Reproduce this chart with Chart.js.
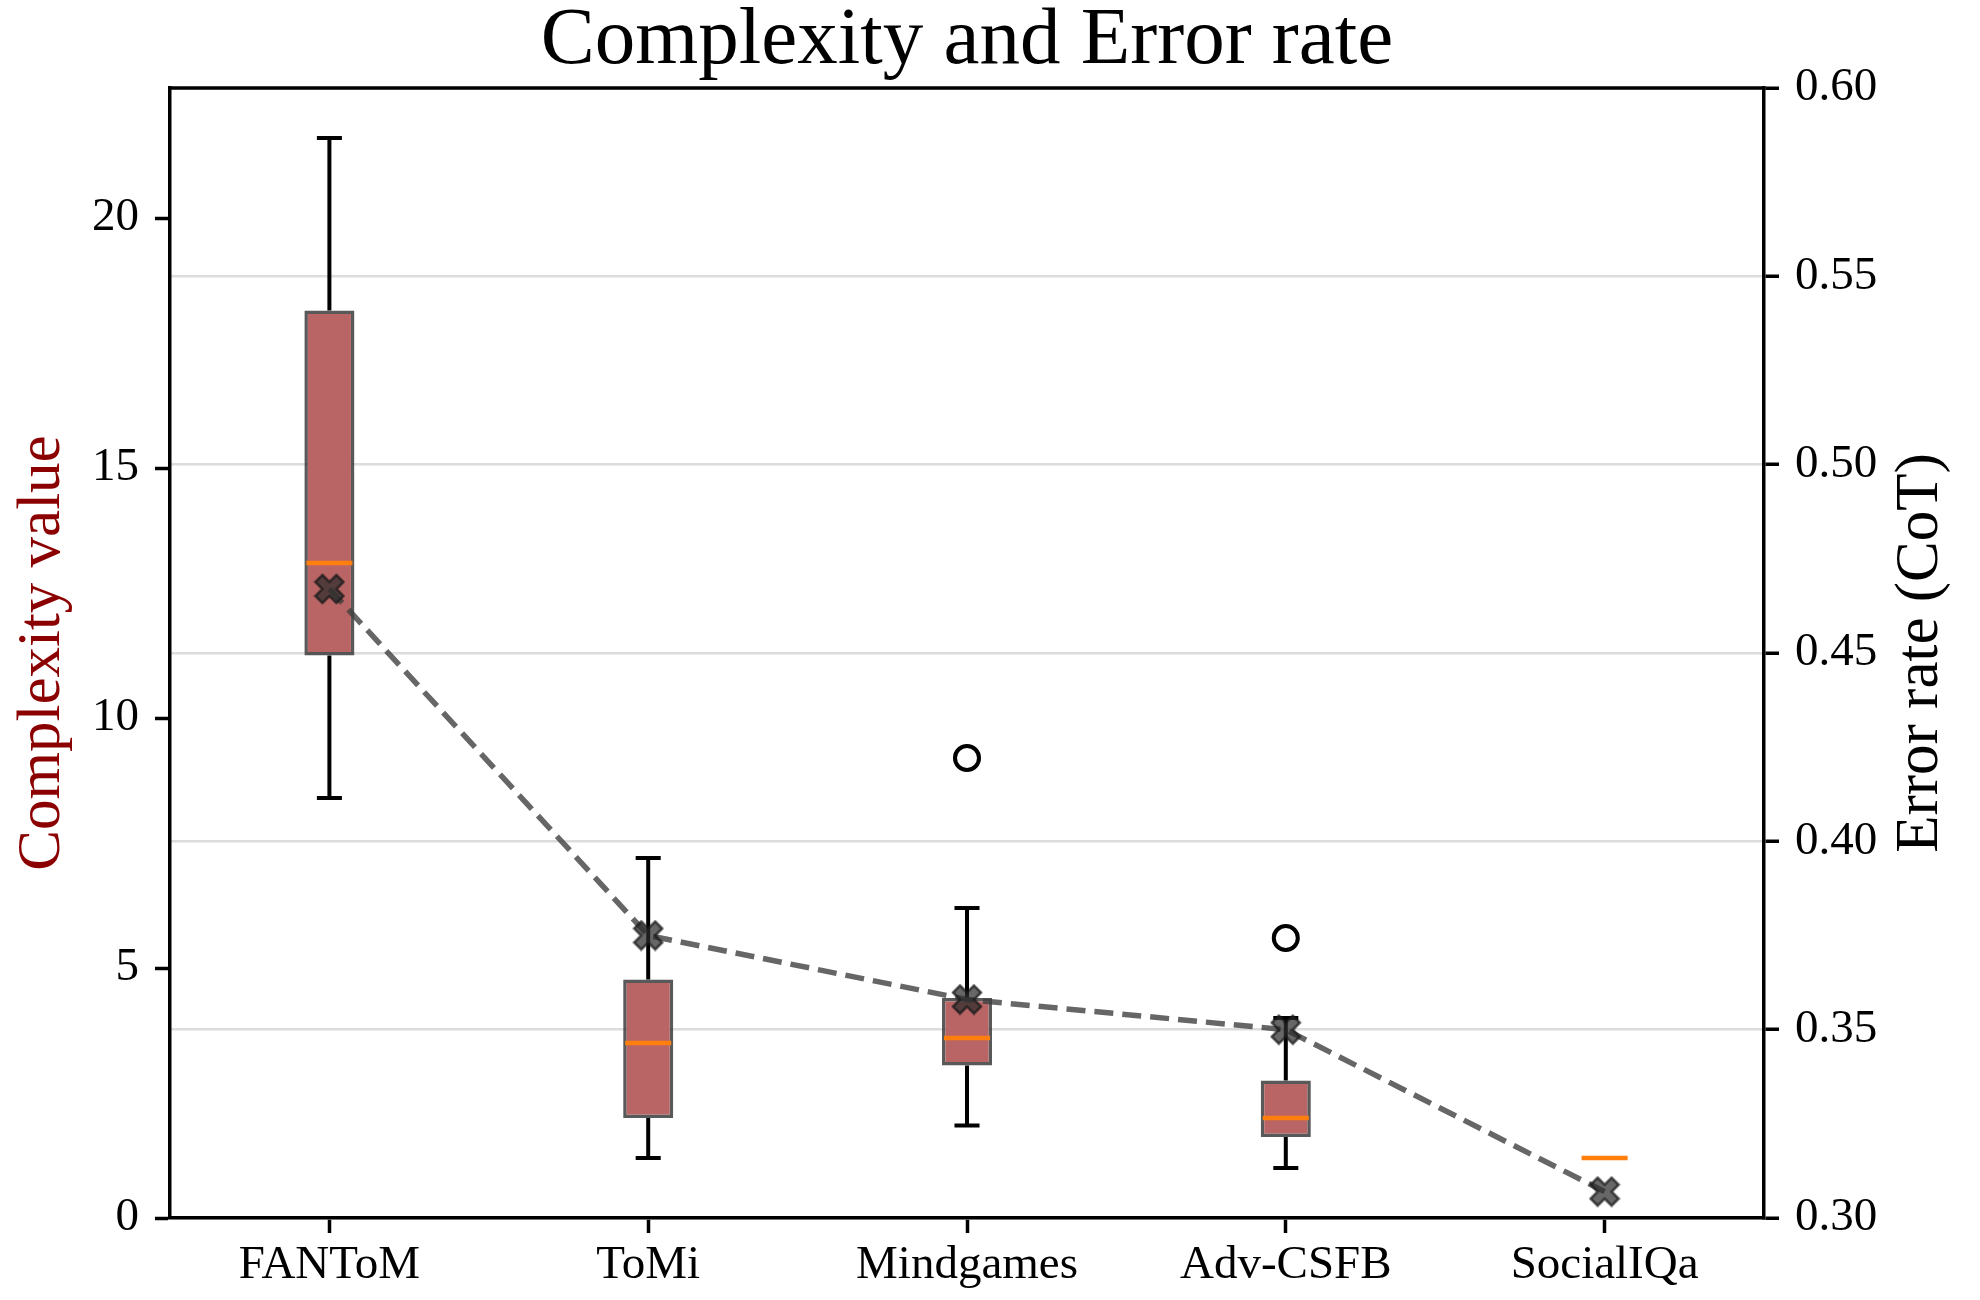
<!DOCTYPE html>
<html>
<head>
<meta charset="utf-8">
<script src="https://cdn.jsdelivr.net/npm/chart.js@4.4.1/dist/chart.umd.min.js"></script>
<style>
  html, body { margin: 0; padding: 0; background: #fff; }
  #wrap { width: 1980px; height: 1300px; }
</style>
</head>
<body>
<div id="wrap"><canvas id="chart"></canvas></div>
<script>
// data
const categories = ['FANToM', 'ToMi', 'Mindgames', 'Adv-CSFB', 'SocialIQa'];
const whiskerLow = [8.4, 1.2, 1.85, 1.0, 1.2];
const q1 = [11.25, 2.0, 3.05, 1.62, 1.2];
const median = [13.1, 3.5, 3.6, 2.0, 1.2];
const q3 = [18.15, 4.77, 4.4, 2.75, 1.2];
const whiskerHigh = [21.6, 7.2, 6.2, 4.0, 1.2];
const outliers = [{ x: 'Mindgames', y: 9.2 }, { x: 'Adv-CSFB', y: 5.6 }];
const errorRate = [0.467, 0.375, 0.358, 0.350, 0.307];
const errorTicks = [0.30, 0.35, 0.40, 0.45, 0.50, 0.55, 0.60];

const serif = 'Liberation Serif';
Chart.defaults.font.family = serif;
Chart.defaults.color = '#000';

// filled "X" marker like matplotlib's
function makeX(size) {
  const c = document.createElement('canvas');
  c.width = size + 4; c.height = size + 4;
  const g = c.getContext('2d');
  const pts = [[-0.25,-0.5],[0,-0.25],[0.25,-0.5],[0.5,-0.25],[0.25,0],[0.5,0.25],
               [0.25,0.5],[0,0.25],[-0.25,0.5],[-0.5,0.25],[-0.25,0],[-0.5,-0.25]];
  g.translate(c.width / 2, c.height / 2);
  g.beginPath();
  pts.forEach((p, i) => { const x = p[0] * size, y = p[1] * size; i ? g.lineTo(x, y) : g.moveTo(x, y); });
  g.closePath();
  g.fillStyle = 'rgba(45,45,45,0.72)';
  g.fill();
  g.lineWidth = 2.5;
  g.strokeStyle = 'rgba(25,25,25,0.75)';
  g.stroke();
  return c;
}
const xMarker = makeX(28);

// whiskers, caps and medians on top of the boxes
const boxExtras = {
  id: 'boxExtras',
  afterDatasetDraw(chart, args) {
    if (args.index !== 0) return;
    const ctx = chart.ctx;
    const xs = chart.scales.x, ys = chart.scales.y;
    const bars = args.meta.data;
    ctx.save();
    categories.forEach((c, i) => {
      const x = xs.getPixelForValue(i);
      const w = bars[i].width;
      const yLo = ys.getPixelForValue(whiskerLow[i]);
      const yHi = ys.getPixelForValue(whiskerHigh[i]);
      const yQ1 = ys.getPixelForValue(q1[i]);
      const yQ3 = ys.getPixelForValue(q3[i]);
      const yMed = ys.getPixelForValue(median[i]);
      ctx.strokeStyle = '#000';
      ctx.lineWidth = 4;
      ctx.beginPath();
      ctx.moveTo(x, yQ1); ctx.lineTo(x, yLo);
      ctx.moveTo(x, yQ3); ctx.lineTo(x, yHi);
      ctx.moveTo(x - w / 4, yLo); ctx.lineTo(x + w / 4, yLo);
      ctx.moveTo(x - w / 4, yHi); ctx.lineTo(x + w / 4, yHi);
      ctx.stroke();
      ctx.strokeStyle = '#ff7f0e';
      ctx.lineWidth = 4.5;
      ctx.beginPath();
      ctx.moveTo(x - w / 2 + 2, yMed); ctx.lineTo(x + w / 2 - 2, yMed);
      ctx.stroke();
    });
    ctx.restore();
  }
};

// top spine and the right-hand axis label (matplotlib reads it bottom to top)
const frameAndLabel = {
  id: 'frameAndLabel',
  afterDraw(chart) {
    const ctx = chart.ctx, a = chart.chartArea;
    ctx.save();
    ctx.strokeStyle = '#000';
    ctx.lineWidth = 3.5;
    ctx.beginPath();
    ctx.moveTo(a.left - 1.5, a.top); ctx.lineTo(a.right + 1.5, a.top);
    ctx.stroke();
    ctx.translate(1921, (a.top + a.bottom) / 2);
    ctx.rotate(-Math.PI / 2);
    ctx.font = '61px "' + serif + '"';
    ctx.fillStyle = '#000';
    ctx.textAlign = 'center';
    ctx.textBaseline = 'middle';
    ctx.fillText('Error rate (CoT)', 0, 0);
    ctx.restore();
  }
};

new Chart(document.getElementById('chart'), {
  type: 'bar',
  data: {
    labels: categories,
    datasets: [{
      type: 'bar',
      label: 'Complexity',
      data: categories.map((c, i) => [q1[i], q3[i]]),
      yAxisID: 'y',
      backgroundColor: '#b96565',
      borderColor: 'rgba(60,60,60,0.85)',
      borderWidth: 3.5,
      borderSkipped: false,
      barPercentage: 0.157,
      categoryPercentage: 1,
      order: 2
    }, {
      type: 'line',
      label: 'Outliers',
      data: outliers,
      yAxisID: 'y',
      showLine: false,
      pointStyle: 'circle',
      pointRadius: 12,
      pointBorderWidth: 4,
      pointBorderColor: '#000',
      pointBackgroundColor: 'rgba(255,255,255,0)',
      order: 1
    }, {
      type: 'line',
      label: 'Error rate (CoT)',
      data: errorRate,
      yAxisID: 'y1',
      borderColor: 'rgba(64,64,64,0.8)',
      borderWidth: 5.5,
      borderDash: [19, 9],
      fill: false,
      pointStyle: xMarker,
      order: 0
    }]
  },
  options: {
    responsive: true,
    maintainAspectRatio: false,
    animation: false,
    layout: { padding: 0 },
    plugins: {
      legend: { display: false },
      tooltip: { enabled: false },
      title: {
        display: true,
        text: 'Complexity and Error rate',
        fullSize: false,
        font: { family: serif, size: 81, weight: 'normal', lineHeight: 1 },
        color: '#000',
        padding: { top: 1, bottom: 6 }
      }
    },
    scales: {
      x: {
        type: 'category',
        offset: true,
        grid: { display: true, drawOnChartArea: false, offset: false, tickLength: 15, tickWidth: 3.5, color: '#000' },
        border: { color: '#000', width: 3.5 },
        ticks: { font: { size: 47 }, padding: 4, color: '#000' },
        afterFit(s) { s.height = 82; }
      },
      y: {
        position: 'left',
        min: 0,
        max: 22.6,
        ticks: { stepSize: 5, includeBounds: false, font: { size: 47 }, padding: 16, color: '#000' },
        grid: { drawOnChartArea: false, tickLength: 15, tickWidth: 3.5, color: '#000' },
        border: { color: '#000', width: 3.5 },
        title: {
          display: true,
          text: 'Complexity value',
          color: '#8b0000',
          font: { family: serif, size: 61, lineHeight: 1 },
          padding: { top: 12, bottom: 0 }
        },
        afterFit(s) { s.width = 170; }
      },
      y1: {
        position: 'right',
        min: 0.3,
        max: 0.6,
        afterBuildTicks(s) { s.ticks = errorTicks.map(v => ({ value: v })); },
        ticks: { font: { size: 47 }, padding: 16, color: '#000', callback: v => v.toFixed(2) },
        grid: { drawOnChartArea: true, color: '#dcdcdc', lineWidth: 2.5, tickLength: 15, tickWidth: 3.5, tickColor: '#000' },
        border: { color: '#000', width: 3.5 },
        afterFit(s) { s.width = 216; }
      }
    }
  },
  plugins: [boxExtras, frameAndLabel]
});
</script>
</body>
</html>
